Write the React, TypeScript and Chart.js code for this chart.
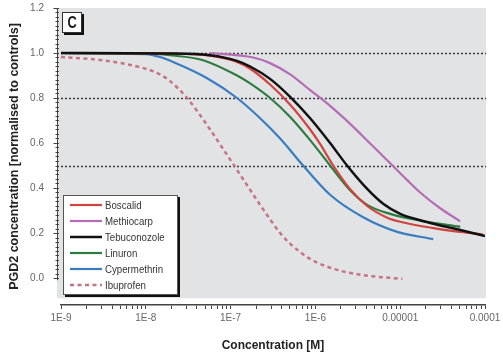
import React, { useEffect, useRef } from "react";
import { Chart, registerables } from "chart.js";

Chart.register(...registerables);

// ---------- data ----------
const seriesNames = ["Boscalid", "Methiocarp", "Tebuconozole", "Linuron", "Cypermethrin", "Ibuprofen"];
const seriesColors = ["#d0443f", "#b46cb5", "#111111", "#2e7b3f", "#3a7cc0", "#c47482"];

const boscalidConc = [1e-9, 1.93e-8, 5.73e-8, 1.19e-7, 1.7e-7, 2.92e-7, 5.04e-7, 8.67e-7, 1.14e-6, 1.62e-6, 2.57e-6, 4.08e-6, 7.03e-6, 1e-5, 2.45e-5, 5.1e-5, 9.5e-5];
const boscalidValues = [1.0, 0.997, 0.988, 0.96, 0.93, 0.86, 0.77, 0.66, 0.595, 0.5, 0.395, 0.32, 0.268, 0.25, 0.222, 0.205, 0.193];

const methiocarpConc = [5.73e-8, 1.84e-7, 2.92e-7, 5.04e-7, 8.67e-7, 1.49e-6, 2.57e-6, 4.36e-6, 7.62e-6, 1.21e-5, 1.72e-5, 2.96e-5, 5.1e-5];
const methiocarpValues = [1.0, 0.98, 0.955, 0.905, 0.835, 0.765, 0.685, 0.6, 0.51, 0.435, 0.38, 0.31, 0.252];

const tebuconozoleConc = [1e-9, 1.93e-8, 5.73e-8, 1.19e-7, 1.7e-7, 2.92e-7, 5.04e-7, 8.67e-7, 1.49e-6, 2.36e-6, 4.08e-6, 6.3e-6, 1e-5, 1.72e-5, 5.1e-5, 1e-4];
const tebuconozoleValues = [1.0, 0.998, 0.99, 0.965, 0.94, 0.885, 0.805, 0.71, 0.6, 0.5, 0.396, 0.33, 0.285, 0.257, 0.213, 0.187];

const linuronConc = [1e-9, 1e-8, 1.93e-8, 4.74e-8, 1.19e-7, 1.7e-7, 2.92e-7, 5.04e-7, 8.67e-7, 1.49e-6, 2.57e-6, 4.08e-6, 7.62e-6, 1.72e-5, 5.1e-5];
const linuronValues = [1.0, 0.998, 0.99, 0.968, 0.9, 0.865, 0.8, 0.716, 0.613, 0.5, 0.39, 0.325, 0.285, 0.255, 0.227];

const cypermethrinConc = [1e-9, 1e-8, 1.47e-8, 2.1e-8, 5.29e-8, 1.19e-7, 2.23e-7, 3.84e-7, 7.16e-7, 1.49e-6, 3.66e-6, 9.23e-6, 2.45e-5];
const cypermethrinValues = [1.0, 0.995, 0.982, 0.96, 0.888, 0.8, 0.71, 0.62, 0.5, 0.37, 0.27, 0.205, 0.173];

const ibuprofenConc = [1e-9, 2.88e-9, 1e-8, 1.47e-8, 1.93e-8, 3.07e-8, 5.73e-8, 7.94e-8, 1.1e-7, 1.4e-7, 2.23e-7, 3.84e-7, 4.8e-7, 8.67e-7, 1.81e-6, 3.66e-6, 1.06e-5];
const ibuprofenValues = [0.982, 0.969, 0.93, 0.905, 0.875, 0.8, 0.66, 0.58, 0.5, 0.44, 0.325, 0.2, 0.16, 0.085, 0.036, 0.013, -0.004];

const xDecades = [1e-9, 1e-8, 1e-7, 1e-6, 1e-5, 1e-4];
const xTickLabels = ["1E-9", "1E-8", "1E-7", "1E-6", "0.00001", "0.0001"];
const yTickValues = [0, 0.2, 0.4, 0.6, 0.8, 1.0, 1.2];
const yTickLabels = ["0.0", "0.2", "0.4", "0.6", "0.8", "1.0", "1.2"];
const referenceLines = [1.0, 0.8, 0.5];
const panelLetter = "C";
const xTitle = "Concentration [M]";
const yTitle = "PGD2 concentration [normalised to controls]";

const X_MIN = 1e-9;
const X_MAX = 1e-4;
const Y_MIN = -0.12;
const Y_MAX = 1.2;
const PLOT_FLOOR = -0.09;
const Y_MINOR_STEP = 0.02;

const FONT = '"Liberation Sans", Arial, sans-serif';

const toPoints = (xs: number[], ys: number[]) => xs.map((x, i) => ({ x, y: ys[i] }));

const seriesData = [
  toPoints(boscalidConc, boscalidValues),
  toPoints(methiocarpConc, methiocarpValues),
  toPoints(tebuconozoleConc, tebuconozoleValues),
  toPoints(linuronConc, linuronValues),
  toPoints(cypermethrinConc, cypermethrinValues),
  toPoints(ibuprofenConc, ibuprofenValues),
];

const xTickValues: number[] = [];
xDecades.forEach((d, i) => {
  xTickValues.push(d);
  if (i < xDecades.length - 1) for (let m = 2; m <= 9; m++) xTickValues.push(d * m);
});

const decorPlugin = {
  id: "decor",
  beforeDraw(chart: any) {
    const { ctx, chartArea, scales } = chart;
    const y = scales.y;
    ctx.save();
    ctx.fillStyle = "#e2e3e5";
    const left = chartArea.left - 4;
    const right = chartArea.right + 1;
    const top = chartArea.top;
    const bottom = y.getPixelForValue(PLOT_FLOOR);
    ctx.fillRect(left, top, right - left, bottom - top);
    ctx.restore();
  },
  beforeDatasetsDraw(chart: any) {
    const { ctx, chartArea, scales } = chart;
    const y = scales.y;
    ctx.save();
    ctx.strokeStyle = "#3a3a3a";
    ctx.lineWidth = 1.5;
    ctx.setLineDash([2, 2]);
    referenceLines.forEach((v) => {
      const py = Math.round(y.getPixelForValue(v)) + 0.5;
      ctx.beginPath();
      ctx.moveTo(chartArea.left - 4, py);
      ctx.lineTo(chartArea.right + 1, py);
      ctx.stroke();
    });
    ctx.restore();
  },
  afterDraw(chart: any) {
    const { ctx, chartArea, scales } = chart;
    const y = scales.y;
    ctx.save();
    // y axis line with minor / major ticks
    const ax = chartArea.left - 4 + 0.5;
    ctx.strokeStyle = "#444";
    ctx.lineWidth = 1;
    ctx.beginPath();
    ctx.moveTo(ax, y.getPixelForValue(Y_MAX));
    ctx.lineTo(ax, y.getPixelForValue(-0.01));
    ctx.stroke();
    const nMinor = Math.round(Y_MAX / Y_MINOR_STEP);
    for (let i = 0; i <= nMinor; i++) {
      const v = i * Y_MINOR_STEP;
      const py = Math.round(y.getPixelForValue(v)) + 0.5;
      const major = i % 10 === 0;
      ctx.beginPath();
      ctx.moveTo(ax - (major ? 4 : 2), py);
      ctx.lineTo(ax + 1.5, py);
      ctx.stroke();
    }

    // panel letter box
    const bx = chartArea.left + 1;
    const by = chartArea.top + 4;
    const bw = 20;
    const bh = 21;
    ctx.fillStyle = "#111";
    ctx.fillRect(bx + 2, by + 2, bw, bh);
    ctx.fillStyle = "#fff";
    ctx.fillRect(bx, by, bw, bh);
    ctx.strokeStyle = "#333";
    ctx.lineWidth = 1;
    ctx.strokeRect(bx + 0.5, by + 0.5, bw - 1, bh - 1);
    ctx.fillStyle = "#1a1a1a";
    ctx.font = `bold 16px ${FONT}`;
    ctx.textAlign = "center";
    ctx.textBaseline = "middle";
    ctx.save();
    ctx.translate(bx + bw / 2, by + bh / 2 + 1);
    ctx.scale(0.8, 1);
    ctx.fillText(panelLetter, 0, 0);
    ctx.restore();

    // legend box
    const lw = 115;
    const lh = 100;
    const lx = chartArea.left + 2;
    const ly = chartArea.bottom - 10 - lh;
    ctx.fillStyle = "#111";
    ctx.fillRect(lx + 2, ly + 2, lw, lh);
    ctx.fillStyle = "#fff";
    ctx.fillRect(lx, ly, lw, lh);
    ctx.strokeStyle = "#555";
    ctx.strokeRect(lx + 0.5, ly + 0.5, lw - 1, lh - 1);
    ctx.font = `11px ${FONT}`;
    ctx.textAlign = "left";
    ctx.textBaseline = "middle";
    chart.data.datasets.forEach((ds: any, i: number) => {
      const rowY = ly + 10 + i * 16;
      ctx.strokeStyle = ds.borderColor;
      ctx.lineWidth = ds.borderWidth;
      ctx.setLineDash(ds.borderDash || []);
      ctx.beginPath();
      ctx.moveTo(lx + 7, rowY);
      ctx.lineTo(lx + 39, rowY);
      ctx.stroke();
      ctx.setLineDash([]);
      ctx.fillStyle = "#333";
      ctx.save();
      ctx.translate(lx + 42, rowY + 0.5);
      ctx.scale(0.88, 1);
      ctx.fillText(ds.label, 0, 0);
      ctx.restore();
    });
    ctx.restore();
  },
};

export default function App() {
  const ref = useRef<HTMLCanvasElement | null>(null);
  useEffect(() => {
    if (!ref.current) return;
    const chart = new Chart(ref.current, {
      type: "line",
      data: {
        datasets: seriesNames.map((name, i) => ({
          label: name,
          data: seriesData[i],
          borderColor: seriesColors[i],
          backgroundColor: seriesColors[i],
          borderWidth: i === 5 ? 2.5 : i === 2 ? 2.5 : 2.2,
          borderDash: i === 5 ? [4, 3.5] : [],
          pointRadius: 0,
          pointHoverRadius: 0,
          cubicInterpolationMode: "monotone",
          fill: false,
          order: i === 2 ? -1 : i,
        })),
      },
      options: {
        responsive: false,
        animation: false,
        layout: { autoPadding: false, padding: { top: 8, right: 18, left: 0, bottom: 0 } },
        plugins: { legend: { display: false }, tooltip: { enabled: false } },
        scales: {
          x: {
            type: "logarithmic",
            min: X_MIN,
            max: X_MAX,
            afterBuildTicks: (s: any) => {
              s.ticks = xTickValues.map((v) => ({ value: v, major: xDecades.includes(v) }));
            },
            afterFit: (s: any) => {
              s.height = 57;
              s.paddingLeft = 0;
              s.paddingRight = 0;
            },
            grid: { drawOnChartArea: false, drawTicks: true, tickLength: 4, color: "#444", tickWidth: 1 },
            border: { display: true, color: "#444", width: 1.5 },
            ticks: {
              autoSkip: false,
              maxRotation: 0,
              padding: 3,
              color: "#666",
              font: { family: FONT, size: 10 },
              callback: (v: any) => {
                const idx = xDecades.findIndex((d) => Math.abs(d - Number(v)) / d < 1e-6);
                return idx >= 0 ? xTickLabels[idx] : "";
              },
            },
            title: {
              display: true,
              text: xTitle,
              color: "#222",
              font: { family: FONT, size: 12, weight: "bold" },
              padding: { top: 0, bottom: 9 },
            },
          },
          y: {
            min: Y_MIN,
            max: Y_MAX,
            afterBuildTicks: (s: any) => {
              s.ticks = yTickValues.map((v) => ({ value: v }));
            },
            afterFit: (s: any) => {
              s.width = 61;
              s.paddingTop = 0;
              s.paddingBottom = 0;
            },
            grid: { display: false },
            border: { display: false },
            ticks: {
              padding: 9,
              color: "#666",
              font: { family: FONT, size: 10 },
              callback: (v: any) => {
                const idx = yTickValues.findIndex((t) => Math.abs(t - Number(v)) < 1e-6);
                return idx >= 0 ? yTickLabels[idx] : "";
              },
            },
            title: {
              display: true,
              text: yTitle,
              color: "#222",
              font: { family: FONT, size: 12.5, weight: "bold" },
              padding: { top: 7, bottom: 0 },
            },
          },
        },
      },
      plugins: [decorPlugin],
    } as any);
    return () => chart.destroy();
  }, []);
  return (
    <div style={{ position: "fixed", left: 0, top: 0, width: 503, height: 362, background: "#fff" }}>
      <canvas ref={ref} width={503} height={362} />
    </div>
  );
}
